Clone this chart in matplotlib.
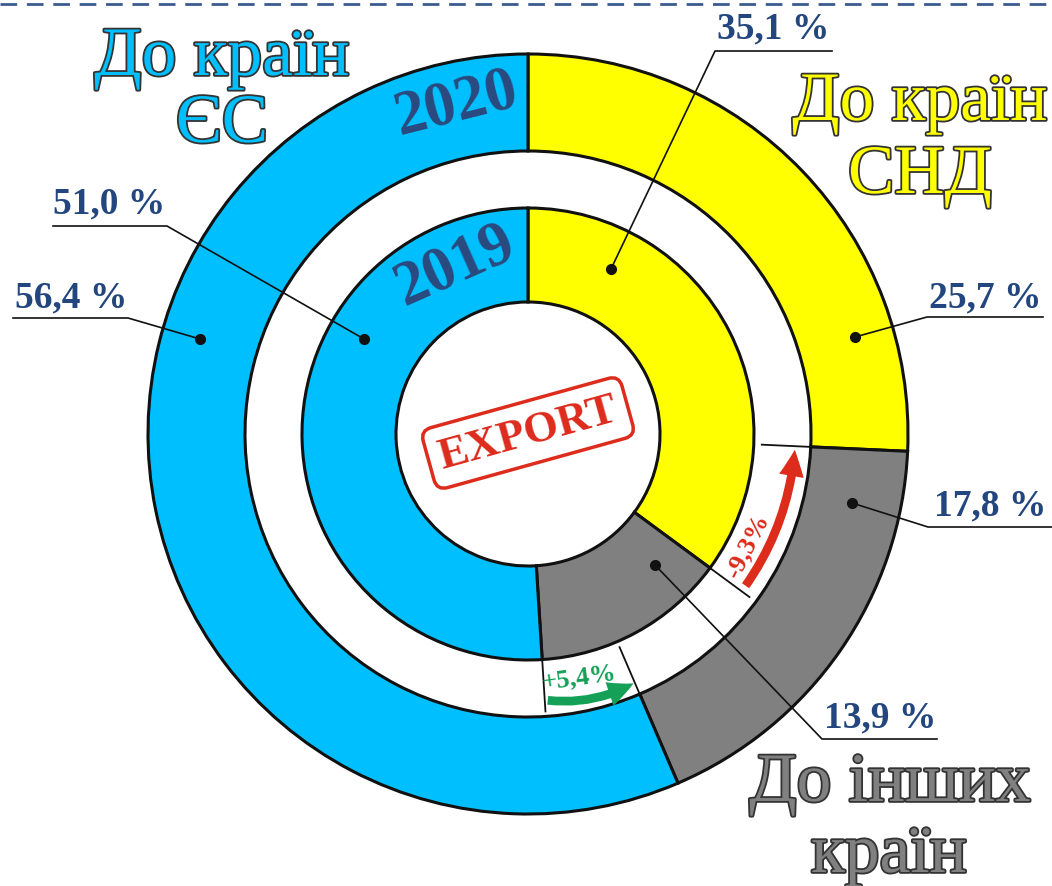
import numpy as np
import matplotlib.pyplot as plt
import matplotlib.patheffects as pe
from matplotlib.patches import FancyArrowPatch

# data
groups = ['До країн\nСНД', 'До інших\nкраїн', 'До країн\nЄС']
years = ['2020', '2019']
share_2020 = [25.7, 17.8, 56.4]
share_2019 = [35.1, 13.9, 51.0]
change_cis = '-9,3%'
change_eu = '+5,4%'
colors = ['#ffff00', '#808080', '#00bfff']

W, H = 1052, 887


def P(x, y):
    # pixel coords (top-left origin) -> data coords
    return x, H - y


def pct(v):
    return f'{v:.1f} %'.replace('.', ',')


def bounds(shares):
    s = np.array(shares, dtype=float)
    return 90 - 360 * np.cumsum(s) / s.sum()


cx, cy = P(528, 435)
R_out, R_out_in = 380, 283
R_in, R_in_in = 226, 132

fig = plt.figure(figsize=(W / 100, H / 100), dpi=100)
ax = fig.add_axes([0, 0, 1, 1])

wp = dict(edgecolor='#111111', linewidth=2.2)
ax.pie(share_2020, radius=R_out, center=(cx, cy), startangle=90, counterclock=False,
       colors=colors, wedgeprops=dict(width=R_out - R_out_in, **wp))
ax.pie(share_2019, radius=R_in, center=(cx, cy), startangle=90, counterclock=False,
       colors=colors, wedgeprops=dict(width=R_in - R_in_in, **wp))

ax.set_xlim(0, W)
ax.set_ylim(0, H)
ax.set_aspect('equal')
ax.set_axis_off()

# radial ticks across the white gap
b20 = bounds(share_2020)
b19 = bounds(share_2019)
for a, r0, r1 in [(b20[0], 234, R_out_in), (b20[1], 232, R_out_in),
                  (b19[0], R_in, 275), (b19[1], R_in, 278)]:
    t = np.radians(a)
    ax.plot([cx + r0 * np.cos(t), cx + r1 * np.cos(t)],
            [cy + r0 * np.sin(t), cy + r1 * np.sin(t)], color='#111111', lw=1.3)

# dashed line at the top
ax.plot([0, W], [H - 5, H - 5], color='#3b5b8f', lw=2, dashes=(6, 3.5))

# year labels
ycol = '#2b4a7e'
ax.text(*P(456, 105), years[0], fontsize=45, fontweight='bold', family='Liberation Serif',
        color=ycol, rotation=14, ha='center', va='center', rotation_mode='anchor')
ax.text(*P(455, 266), years[1], fontsize=45, fontweight='bold', family='Liberation Serif',
        color=ycol, rotation=24, ha='center', va='center', rotation_mode='anchor')

# EXPORT stamp
red = '#dd2b1c'
ax.text(*P(528, 434), 'EXPORT', fontsize=32, fontweight='bold', family='Liberation Serif',
        color=red, rotation=15.5, ha='center', va='center', rotation_mode='anchor',
        bbox=dict(boxstyle='round,pad=0.25,rounding_size=0.25', fc='white', ec=red, lw=2.5))

# value labels with leaders
ncol = '#23467f'
labels = [
    (pct(share_2019[0]), (773, 38), [(832, 52), (715, 52), (611, 270)]),
    (pct(share_2020[0]), (985, 307), [(1043, 318), (927, 318), (855, 338)]),
    (pct(share_2020[1]), (990, 515), [(1052, 528), (928, 528), (852, 504)]),
    (pct(share_2019[1]), (880, 727), [(937, 740), (822, 740), (655, 566)]),
    (pct(share_2019[2]), (109, 213), [(53, 227), (167, 227), (364, 340)]),
    (pct(share_2020[2]), (71, 307), [(13, 319), (128, 319), (200, 340)]),
]
for txt, tp, pts in labels:
    ax.text(*P(*tp), txt, fontsize=27, fontweight='bold', family='Liberation Serif',
            color=ncol, ha='center', va='baseline')
    xs = [p[0] for p in pts]
    ys = [H - p[1] for p in pts]
    ax.plot(xs, ys, color='#111111', lw=1.2)
    ax.plot(xs[-1], ys[-1], 'o', color='#111111', ms=7)

# group labels
stroke = [pe.withStroke(linewidth=2.6, foreground='#333333')]
gpos = [[(920, 121), (920, 194)], [(890, 802), (889, 873)], [(222, 76), (222, 143)]]
for g, col, pos in zip(groups, colors, gpos):
    for line, (x, y) in zip(g.split('\n'), pos):
        ax.text(*P(x, y), line, fontsize=50, family='Liberation Serif', color=col,
                ha='center', va='baseline', path_effects=stroke)

# change arrows
green = '#15a057'
astyle = 'simple,tail_width=0.3,head_width=0.85,head_length=0.9'
ax.add_patch(FancyArrowPatch(P(545, 701), P(636, 683), connectionstyle='arc3,rad=0.167',
                             arrowstyle=astyle, mutation_scale=21, color=green, lw=0))
ax.text(*P(580, 684), change_eu, fontsize=19, fontweight='bold', family='Liberation Serif',
        color=green, rotation=8, ha='center', va='baseline', rotation_mode='anchor')

ax.add_patch(FancyArrowPatch(P(744, 589), P(795, 448), connectionstyle='arc3,rad=0.14',
                             arrowstyle=astyle, mutation_scale=21, color=red, lw=0))
ax.text(*P(747, 546), change_cis, fontsize=19, fontweight='bold', family='Liberation Serif',
        color=red, rotation=63, ha='center', va='center', rotation_mode='anchor')

fig.savefig('out.png', dpi=100)
